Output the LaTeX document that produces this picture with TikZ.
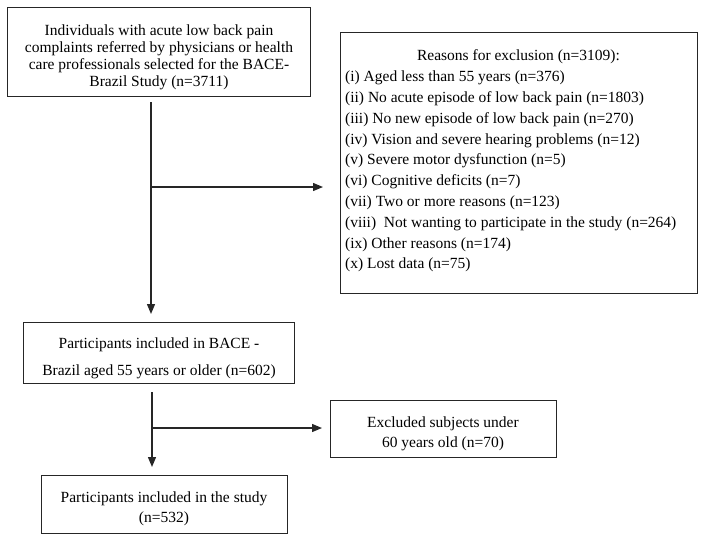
\documentclass[tikz,border=0pt]{standalone}
\usepackage{fontspec}
\setmainfont{Liberation Serif}
\usetikzlibrary{arrows.meta}
\begin{document}
\begin{tikzpicture}[x=1pt,y=-1pt,
  boxnode/.style={draw=black!85,line width=1.3pt,rectangle,inner sep=0pt,anchor=north west},
  txt/.style={inner sep=0pt,align=center,font=\fontsize{15.5}{17}\selectfont},
  conn/.style={draw=black!85,line width=1.3pt},
  arr/.style={conn,-{Triangle[length=10pt,width=8pt]}}]
\useasboundingbox (0,0) rectangle (702,542);
% boxes
\node[boxnode,minimum width=303pt,minimum height=89pt] (b1) at (7,7) {};
\node[boxnode,minimum width=357pt,minimum height=261pt] (b2) at (340,32) {};
\node[boxnode,minimum width=271pt,minimum height=61pt] (b3) at (23,322) {};
\node[boxnode,minimum width=226pt,minimum height=57pt] (b4) at (330,400) {};
\node[boxnode,minimum width=246pt,minimum height=58pt] (b5) at (41,475) {};
% texts
\node[txt] (t1) at (159,57.5) {Individuals with acute low back pain\\complaints referred by physicians or health\\care professionals selected for the BACE-\\Brazil Study (n=3711)};
\node[txt] (t2a) at (518.5,57) {Reasons for exclusion (n=3109):};
\node[txt,anchor=west,align=left,font=\fontsize{15.5}{20.8}\selectfont] (t2b) at (345,171.5) {(i) Aged less than 55 years (n=376)\\(ii) No acute episode of low back pain (n=1803)\\(iii) No new episode of low back pain (n=270)\\(iv) Vision and severe hearing problems (n=12)\\(v) Severe motor dysfunction (n=5)\\(vi) Cognitive deficits (n=7)\\(vii) Two or more reasons (n=123)\\(viii)\ \ Not wanting to participate in the study (n=264)\\(ix) Other reasons (n=174)\\(x) Lost data (n=75)};
\node[txt,font=\fontsize{15.5}{27}\selectfont] (t3) at (159,358.5) {Participants included in BACE -\\Brazil aged 55 years or older (n=602)};
\node[txt,font=\fontsize{15.5}{20}\selectfont] (t4) at (443,434) {Excluded subjects under\\60 years old (n=70)};
\node[txt,font=\fontsize{15.5}{20}\selectfont] (t5) at (164,509) {Participants included in the study\\(n=532)};
% connectors
\coordinate (j1) at (151,187);
\coordinate (j2) at (152,428);
\draw[arr,shorten <=5pt,shorten >=8pt] (b1.south -| j1) -- (b3.north -| j1);
\draw[arr,shorten >=17pt] (j1) -- (b2.west |- j1);
\draw[arr,shorten <=8pt,shorten >=8pt] (b3.south -| j2) -- (b5.north -| j2);
\draw[arr,shorten >=8pt] (j2) -- (b4.west |- j2);
\end{tikzpicture}
\end{document}
